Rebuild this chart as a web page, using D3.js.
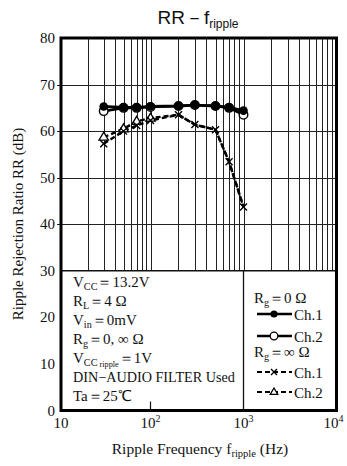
<!DOCTYPE html>
<html>
<head>
<meta charset="utf-8">
<script src="https://cdn.jsdelivr.net/npm/d3@7"></script>
<style>
  html, body { margin: 0; padding: 0; background: #fff; }
  svg { display: block; }
</style>
</head>
<body>
<svg id="chart" width="347" height="466"></svg>
<script>
// Ripple rejection ratio vs. ripple frequency
const freqs = [30, 50, 70, 100, 200, 300, 500, 700, 1000];
const rg0Ch1 = [65.3, 65.1, 65.1, 65.3, 65.4, 65.6, 65.4, 65.1, 64.4];
const rg0Ch2 = [64.3, 65.0, 65.0, 65.2, 65.4, 65.6, 65.4, 65.0, 63.5];
const rgInfCh1 = [57.3, 60.0, 61.2, 62.3, 63.5, 61.4, 60.3, 53.4, 43.7];
const rgInfCh2 = [58.7, 60.5, 62.1, 62.8, 63.5, 61.4, 60.3, 53.4, 43.7];

const yTicks = [0, 10, 20, 30, 40, 50, 60, 70, 80];
const xDecades = [10, 100, 1000, 10000];
const xTickExp = ["", "2", "3", "4"];

const conditions = [
  [{t: "V"}, {t: "CC", sub: 1}, {t: "＝13.2V"}],
  [{t: "R"}, {t: "L", sub: 1}, {t: "＝4 Ω"}],
  [{t: "V"}, {t: "in", sub: 1}, {t: "＝0mV"}],
  [{t: "R"}, {t: "g", sub: 1}, {t: "＝0, ∞ Ω"}],
  [{t: "V"}, {t: "CC", sub: 1}, {t: " ripple", sub: 2}, {t: "＝1V"}],
  [{t: "DIN−AUDIO FILTER Used"}],
  [{t: "Ta＝25℃"}]
];

const svg = d3.select("#chart");
const serif = "'Liberation Serif', 'Times New Roman', serif";
const sans = "'Liberation Sans', Arial, sans-serif";

const L = 61, R = 336.5, T = 38, B = 410.5;
const x = d3.scaleLog().domain(xDecades).range([L, 150.5, 243.5, R]);
const y = d3.scaleLinear().domain([0, 80]).range([B, T]);

const gridBottom = y(30);

// rich text helper with subscripts
function rich(g, px, py, parts, size, anchor) {
  const t = g.append("text").attr("x", px).attr("y", py)
    .attr("font-family", serif).attr("font-size", size).attr("fill", "#111")
    .attr("text-anchor", anchor || "start");
  let shift = 0;
  parts.forEach(p => {
    const target = p.sub ? (p.sub === 2 ? 4 : 3) : 0;
    const ts = t.append("tspan").text(p.t)
      .attr("font-size", p.sub ? (p.sub === 2 ? size * 0.55 : size * 0.68) : size);
    if (target !== shift) { ts.attr("dy", target - shift); shift = target; }
  });
  return t;
}

// grid: minor + decade verticals above the info box
const gridG = svg.append("g").attr("stroke", "#222").attr("stroke-width", 1);
const vLines = [];
[10, 100, 1000].forEach(d => { for (let k = 1; k <= 9; k++) vLines.push(d * k); });
vLines.filter(v => v > 10).forEach(v => {
  gridG.append("line").attr("x1", Math.round(x(v)) + 0.5).attr("x2", Math.round(x(v)) + 0.5)
    .attr("y1", T).attr("y2", gridBottom);
});
[40, 50, 60, 70].forEach(v => {
  gridG.append("line").attr("x1", L - 4).attr("x2", R)
    .attr("y1", Math.round(y(v)) + 0.5).attr("y2", Math.round(y(v)) + 0.5);
});

// info box: top rule and divider at 10^3
svg.append("rect").attr("x", L).attr("y", gridBottom).attr("width", R - L).attr("height", B - gridBottom)
  .attr("fill", "#fff");
svg.append("line").attr("x1", L).attr("x2", R).attr("y1", gridBottom).attr("y2", gridBottom)
  .attr("stroke", "#111").attr("stroke-width", 1.6);
svg.append("line").attr("x1", x(1000)).attr("x2", x(1000)).attr("y1", gridBottom).attr("y2", B)
  .attr("stroke", "#111").attr("stroke-width", 1.3);
svg.append("line").attr("x1", x(100)).attr("x2", x(100)).attr("y1", B - 9).attr("y2", B)
  .attr("stroke", "#111").attr("stroke-width", 1.2);

// frame
svg.append("rect").attr("x", L).attr("y", T).attr("width", R - L).attr("height", B - T)
  .attr("fill", "none").attr("stroke", "#000").attr("stroke-width", 3);

// y tick labels
svg.append("g").selectAll("text").data(yTicks).join("text")
  .attr("x", 55).attr("y", d => y(d) + 5)
  .attr("text-anchor", "end").attr("font-family", serif).attr("font-size", 15).attr("fill", "#111")
  .text(d => d);

// x tick labels
xDecades.forEach((d, i) => {
  const t = svg.append("text").attr("x", x(d) + (i === 3 ? -3 : 0)).attr("y", 428)
    .attr("text-anchor", "middle").attr("font-family", serif).attr("font-size", 15).attr("fill", "#111");
  t.append("tspan").text("10");
  if (xTickExp[i]) t.append("tspan").text(xTickExp[i]).attr("font-size", 10).attr("dy", -6);
});

// axis titles
rich(svg, 200, 454, [{t: "Ripple Frequency f"}, {t: "ripple", sub: 1}, {t: " (Hz)"}], 15.5, "middle");
svg.append("text").attr("transform", "translate(23,224) rotate(-90)")
  .attr("text-anchor", "middle").attr("font-family", serif).attr("font-size", 15).attr("fill", "#111")
  .text("Ripple Rejection Ratio RR (dB)");

// chart title
const title = svg.append("text").attr("x", 198).attr("y", 24).attr("text-anchor", "middle")
  .attr("font-family", sans).attr("font-size", 19).attr("fill", "#111");
title.append("tspan").text("RR－f");
title.append("tspan").text("ripple").attr("font-size", 12).attr("dy", 4);

// series
const pts = vals => vals.map((v, i) => [x(freqs[i]), y(v)]);
const line = d3.line();

function crossMark(g, p, s) {
  g.append("path").attr("d", `M${p[0]-s},${p[1]-s}L${p[0]+s},${p[1]+s}M${p[0]-s},${p[1]+s}L${p[0]+s},${p[1]-s}`)
    .attr("stroke", "#000").attr("stroke-width", 1.4).attr("fill", "none");
}
function triMark(g, p, s) {
  g.append("path").attr("d", `M${p[0]},${p[1]-s}L${p[0]+s*0.95},${p[1]+s*0.6}L${p[0]-s*0.95},${p[1]+s*0.6}Z`)
    .attr("stroke", "#000").attr("stroke-width", 1.3).attr("fill", "#fff");
}

const plot = svg.append("g");
// Rg = ∞ (dashed); where both channels coincide the Ch.1 cross covers the Ch.2 triangle
[rgInfCh2, rgInfCh1].forEach(vals => {
  plot.append("path").attr("d", line(pts(vals))).attr("fill", "none")
    .attr("stroke", "#000").attr("stroke-width", 2.4).attr("stroke-dasharray", "5,3");
});
pts(rgInfCh2).forEach((p, i) => { if (rgInfCh2[i] !== rgInfCh1[i]) triMark(plot, p, 5); });
pts(rgInfCh1).forEach(p => crossMark(plot, p, 3.5));

// Rg = 0 (solid)
plot.append("path").attr("d", line(pts(rg0Ch2))).attr("fill", "none").attr("stroke", "#000").attr("stroke-width", 2.6);
pts(rg0Ch2).forEach(p => plot.append("circle").attr("cx", p[0]).attr("cy", p[1]).attr("r", 4.3)
  .attr("fill", "#fff").attr("stroke", "#000").attr("stroke-width", 1.4));
plot.append("path").attr("d", line(pts(rg0Ch1))).attr("fill", "none").attr("stroke", "#000").attr("stroke-width", 2.8);
pts(rg0Ch1).forEach(p => plot.append("circle").attr("cx", p[0]).attr("cy", p[1]).attr("r", 4.3).attr("fill", "#000"));

// operating conditions
conditions.forEach((parts, i) => rich(svg, 73, 287 + i * 19, parts, i === 5 ? 14.2 : 15));

// legend
const lg = svg.append("g");
rich(lg, 254, 303, [{t: "R"}, {t: "g", sub: 1}, {t: "＝0 Ω"}], 15);
rich(lg, 254, 357, [{t: "R"}, {t: "g", sub: 1}, {t: "＝∞ Ω"}], 15);
const lx1 = 257, lx2 = 292, lm = 274;
lg.append("line").attr("x1", lx1).attr("x2", lx2).attr("y1", 314).attr("y2", 314).attr("stroke", "#000").attr("stroke-width", 2.6);
lg.append("circle").attr("cx", lm).attr("cy", 314).attr("r", 3.6).attr("fill", "#000");
lg.append("line").attr("x1", lx1).attr("x2", lx2).attr("y1", 336).attr("y2", 336).attr("stroke", "#000").attr("stroke-width", 2.6);
lg.append("circle").attr("cx", lm).attr("cy", 336).attr("r", 3.8).attr("fill", "#fff").attr("stroke", "#000").attr("stroke-width", 1.3);
lg.append("line").attr("x1", lx1).attr("x2", lx2).attr("y1", 372).attr("y2", 372).attr("stroke", "#000").attr("stroke-width", 2).attr("stroke-dasharray", "5,3");
crossMark(lg, [lm, 372], 3);
lg.append("line").attr("x1", lx1).attr("x2", lx2).attr("y1", 392).attr("y2", 392).attr("stroke", "#000").attr("stroke-width", 2).attr("stroke-dasharray", "5,3");
triMark(lg, [lm, 392], 4);
["Ch.1", "Ch.2", "Ch.1", "Ch.2"].forEach((s, i) => {
  lg.append("text").attr("x", 294).attr("y", [320, 342, 378, 398][i])
    .attr("font-family", serif).attr("font-size", 15).attr("fill", "#111").text(s);
});
</script>
</body>
</html>
